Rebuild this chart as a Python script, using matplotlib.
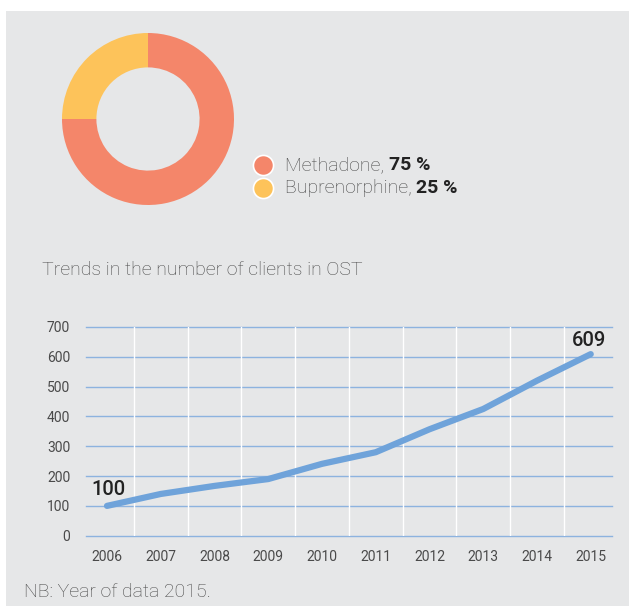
import matplotlib
matplotlib.use("Agg")
import matplotlib.pyplot as plt
from matplotlib.patches import Rectangle
from matplotlib.lines import Line2D

# Treatment split (percent)
drug_names = ["Methadone", "Buprenorphine"]
drug_shares = [75, 25]
drug_colors = ["#F4866A", "#FDC35A"]

# Clients in OST by year
years = ["2006", "2007", "2008", "2009", "2010", "2011", "2012", "2013", "2014", "2015"]
clients = [100, 140, 167, 190, 241, 280, 357, 425, 520, 609]
y_ticks = [0, 100, 200, 300, 400, 500, 600, 700]

W, H = 630, 606
BG = "#E6E7E8"
TEXT = "#484848"
DARK = "#222222"
LINE = "#6FA3DA"
GRID = "#8DB3DF"

fig = plt.figure(figsize=(W / 100, H / 100), dpi=100)
fig.patch.set_facecolor("white")


def px(x, y_top):
    """pixel position (from top-left) -> figure fraction"""
    return x / W, 1 - y_top / H


# Grey panel
fig.add_artist(Rectangle((6 / W, 0), (629 - 6) / W, (H - 11) / H,
                         transform=fig.transFigure, facecolor=BG,
                         edgecolor="none", zorder=0))

# Donut
cx, cy, r = 148, 119, 86
ax_pie = fig.add_axes([(cx - r) / W, 1 - (cy + r) / H, 2 * r / W, 2 * r / H])
ax_pie.pie(drug_shares, colors=drug_colors, startangle=90, counterclock=False,
           radius=1.0, wedgeprops=dict(width=0.4, edgecolor="none"))
ax_pie.set_xlim(-1, 1)
ax_pie.set_ylim(-1, 1)
ax_pie.set_aspect("auto")
ax_pie.axis("off")

# Legend with markers and mixed-weight text
legend_rows = [165, 188]
for name, share, col, yy in zip(drug_names, drug_shares, drug_colors, legend_rows):
    mx, my = px(263, yy)
    fig.add_artist(Line2D([mx], [my], marker="o", markersize=14.5,
                          markerfacecolor=col, markeredgecolor="white",
                          markeredgewidth=1.2, transform=fig.transFigure))
    tx, ty = px(285, yy)
    t = fig.text(tx, ty, f"{name}, ", fontsize=14, family="Roboto",
                 fontweight="light", color=TEXT, va="center", ha="left")
    fig.canvas.draw()
    bb = t.get_window_extent()
    fig.text(bb.x1 / W, ty, f"{share} %", fontsize=14, family="Roboto",
             fontweight="bold", color=DARK, va="center", ha="left")

# Line chart title
tx, ty = px(42, 270)
fig.text(tx, ty, "Trends in the number of clients in OST", fontsize=14,
         family="Roboto", fontweight="light", color=TEXT, va="center", ha="left")

# Line chart
left, right, top, bottom = 85.5, 611.7, 327, 535.7
ax = fig.add_axes([left / W, 1 - bottom / H, (right - left) / W, (bottom - top) / H])
ax.set_facecolor(BG)
xs = list(range(len(years)))
ax.plot(xs, clients, color=LINE, lw=4.5, solid_capstyle="round",
        solid_joinstyle="round", zorder=3)
ax.set_ylim(0, 700)
ax.set_xlim(-0.4, len(years) - 1 + 0.39)
ax.set_yticks(y_ticks)
ax.set_xticks(xs)
ax.set_xticklabels(years)
for yv in y_ticks:
    ax.axhline(yv, color=GRID, lw=1.0, zorder=1, clip_on=False)
for k in range(len(years) - 1):
    ax.axvline(k + 0.5, color="white", lw=1.0, zorder=1)
for s in ax.spines.values():
    s.set_visible(False)
ax.tick_params(length=0, colors="#4a4a4a", labelsize=10)
ax.tick_params(axis="y", pad=11)
ax.tick_params(axis="x", pad=10)
for lab in ax.get_xticklabels() + ax.get_yticklabels():
    lab.set_family("Roboto")
    lab.set_fontweight("normal")

ax.annotate(f"{clients[0]}", (xs[0], clients[0]), xytext=(-11.5, 8),
            textcoords="offset points", fontsize=14.5, family="Roboto",
            fontweight="medium", color=DARK, ha="left", va="baseline")
ax.annotate(f"{clients[-1]}", (xs[-1], clients[-1]), xytext=(-13.5, 6),
            textcoords="offset points", fontsize=14.5, family="Roboto",
            fontweight="medium", color=DARK, ha="left", va="baseline",
            annotation_clip=False)

# Footnote
tx, ty = px(24, 592)
fig.text(tx, ty, "NB: Year of data 2015.", fontsize=14, family="Roboto",
         fontweight="light", color=TEXT, va="center", ha="left")

fig.savefig("out.png", dpi=100, facecolor=fig.get_facecolor())
